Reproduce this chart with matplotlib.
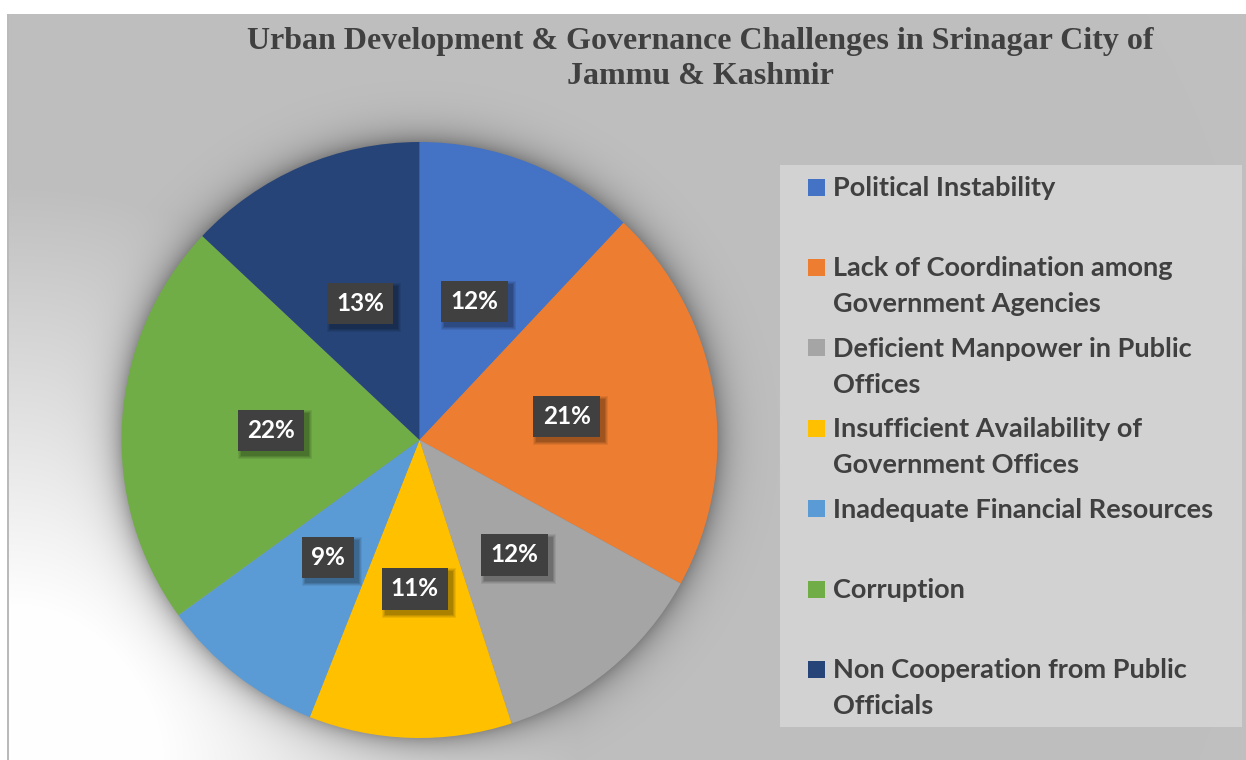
import textwrap
import numpy as np
import matplotlib
matplotlib.use("Agg")
import matplotlib.pyplot as plt
import matplotlib.transforms as mtransforms
from matplotlib.patches import Rectangle

# ---- data -------------------------------------------------------------
title_lines = ["Urban Development & Governance Challenges in Srinagar City of",
               "Jammu & Kashmir"]
categories = [
    "Political Instability",
    "Lack of Coordination among Government Agencies",
    "Deficient Manpower in Public Offices",
    "Insufficient Availability of Government Offices",
    "Inadequate Financial Resources",
    "Corruption",
    "Non Cooperation from Public Officials",
]
shares = [12, 21, 12, 11, 9, 22, 13]
colors = ["#4472C4", "#ED7D31", "#A5A5A5", "#FFC000", "#5B9BD5", "#70AD47", "#264478"]

# ---- canvas -----------------------------------------------------------
W, H = 1246, 760
fig = plt.figure(figsize=(W / 100, H / 100), dpi=100)

# pie geometry in pixels
cx, cy, R = 419.5, 440.0, 298.0

# background: radial gray gradient from the lower-left corner plus a soft glow behind the pie
yy, xx = np.mgrid[0:H, 0:W] + 0.5
dist = np.hypot(xx - 8, yy - 760)
t = np.clip((dist - 150) / 420, 0, 1)
val = 255 - 64 * t
dr = np.hypot(xx - cx, yy - cy) - R
shade = 0.32 * np.exp(-np.clip(dr, 0, None) / 15)
val = val * (1 - shade)
img = np.repeat(val[..., None], 3, axis=2) / 255.0
img[:14, :] = 1.0
img[:, :7] = 1.0
img[14:, 7:9] = 0.73

bg = fig.add_axes([0, 0, 1, 1])
bg.imshow(img, extent=(0, W, H, 0), aspect="auto", interpolation="bilinear")
bg.set_xlim(0, W)
bg.set_ylim(H, 0)
bg.axis("off")

# ---- title ------------------------------------------------------------
for i, line in enumerate(title_lines):
    bg.text(700, 42 + 35 * i, line, ha="center", va="center",
            fontfamily="Liberation Serif", fontweight="bold", fontsize=23,
            color="#404040")

# ---- pie --------------------------------------------------------------
ax = fig.add_axes([(cx - R) / W, (H - cy - R) / H, 2 * R / W, 2 * R / H])
wedges, _, autotexts = ax.pie(
    shares, colors=colors, startangle=90, counterclock=False, radius=1,
    autopct=lambda p: f"{p:.0f}%", pctdistance=0.5,
    wedgeprops=dict(linewidth=0),
    textprops=dict(color="white", fontfamily="Lato", fontweight="bold", fontsize=17.5),
)
ax.set_xlim(-1, 1)
ax.set_ylim(-1, 1)
ax.axis("off")

for at in autotexts:
    at.set_bbox(dict(boxstyle="square,pad=0.38", facecolor="#404040", edgecolor="none"))
    at.set_zorder(5)

# soft drop shadow under each value box (drawn between the wedges and the labels)
fig.canvas.draw()
ident = mtransforms.IdentityTransform()
for at in autotexts:
    bb = at.get_bbox_patch().get_window_extent()
    for k, a in ((4, 0.07), (3, 0.08), (2, 0.10), (1, 0.12)):
        ax.add_artist(Rectangle((bb.x0 + 4 - k, bb.y0 - 4 - k), bb.width + 2 * k,
                                bb.height + 2 * k, transform=ident,
                                facecolor=(0, 0, 0, a), edgecolor="none", zorder=3))

# ---- legend -----------------------------------------------------------
bg.add_patch(Rectangle((780, 165), 462, 562, facecolor="#d2d2d2", edgecolor="none"))
for i, (name, col) in enumerate(zip(categories, colors)):
    base = 196 + 80.4 * i
    bg.add_patch(Rectangle((808, base - 17.5), 17, 17, facecolor=col, edgecolor="none"))
    for j, line in enumerate(textwrap.wrap(name, 30)):
        bg.text(833, base + 36 * j, line, ha="left", va="baseline",
                fontfamily="Lato", fontweight="bold", fontsize=19.5, color="#404040")

fig.savefig("out.png", dpi=100)
